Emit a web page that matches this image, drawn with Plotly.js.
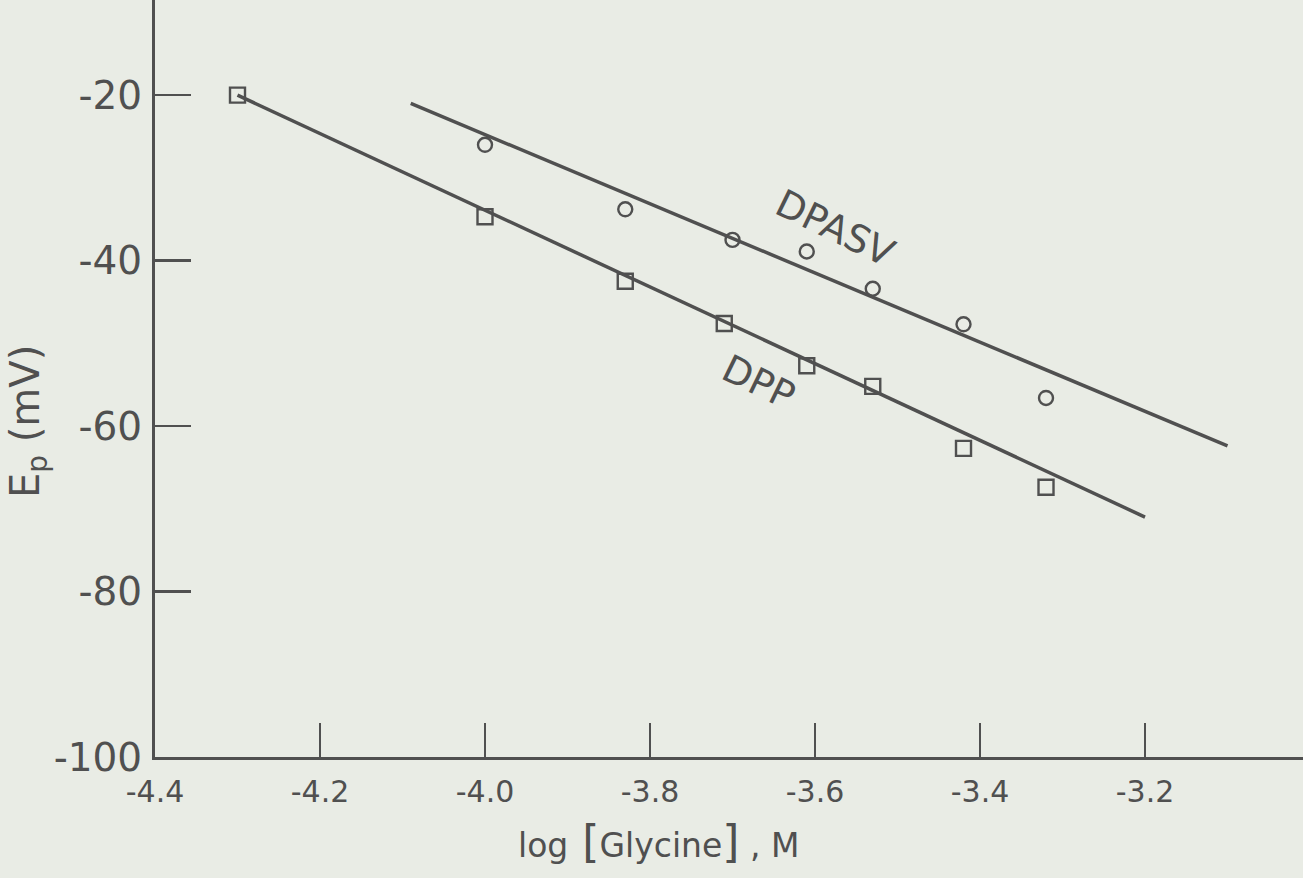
<!DOCTYPE html>
<html>
<head>
<meta charset="utf-8">
<script src="https://cdn.plot.ly/plotly-3.0.1.min.js"></script>
<style>
  html, body { margin: 0; padding: 0; background: #e9ece5; }
  #chart { width: 1303px; height: 878px; }
</style>
</head>
<body>
<div id="chart"></div>
<script>
// DPP data (open squares)
const dppX = [-4.30, -4.00, -3.83, -3.71, -3.61, -3.53, -3.42, -3.32];
const dppY = [-20.0, -34.7, -42.5, -47.6, -52.7, -55.2, -62.7, -67.4];
// DPP fitted line end points
const dppFitX = [-4.30, -3.20];
const dppFitY = [-20.0, -71.0];

// DPASV data (open circles)
const dpasvX = [-4.00, -3.83, -3.70, -3.61, -3.53, -3.42, -3.32];
const dpasvY = [-26.0, -33.8, -37.5, -38.9, -43.4, -47.7, -56.6];
// DPASV fitted line end points
const dpasvFitX = [-4.09, -3.10];
const dpasvFitY = [-21.0, -62.4];

// Axis ticks
const xTicks = [-4.4, -4.2, -4.0, -3.8, -3.6, -3.4, -3.2];
const xTickText = ['-4.4', '-4.2', '-4.0', '-3.8', '-3.6', '-3.4', '-3.2'];
const yTicks = [-100, -80, -60, -40, -20];
const yTickText = ['-100', '-80', '-60', '-40', '-20'];

const ink = '#505050';
const font = 'DejaVu Sans, Liberation Sans, sans-serif';

const traces = [
  { x: dppFitX, y: dppFitY, mode: 'lines', line: { color: ink, width: 3.5 }, hoverinfo: 'skip', showlegend: false },
  { x: dpasvFitX, y: dpasvFitY, mode: 'lines', line: { color: ink, width: 3.5 }, hoverinfo: 'skip', showlegend: false },
  { x: dppX, y: dppY, mode: 'markers', name: 'DPP',
    marker: { symbol: 'square-open', size: 15, color: ink, line: { width: 2.4, color: ink } }, showlegend: false },
  { x: dpasvX, y: dpasvY, mode: 'markers', name: 'DPASV',
    marker: { symbol: 'circle-open', size: 14, color: ink, line: { width: 2.4, color: ink } }, showlegend: false }
];

const layout = {
  width: 1303, height: 878,
  margin: { l: 155, r: 0, t: 0, b: 121 },
  paper_bgcolor: '#e9ece5',
  plot_bgcolor: '#e9ece5',
  font: { family: font, color: ink },
  showlegend: false,
  xaxis: {
    range: [-4.4, -3.0085],
    tickvals: xTicks, ticktext: xTickText,
    ticks: 'inside', ticklen: 34, tickwidth: 2.4, tickcolor: ink,
    showline: true, linecolor: ink, linewidth: 3,
    showgrid: false, zeroline: false,
    tickfont: { size: 30, color: ink, family: font },
    ticklabelstandoff: 6
  },
  yaxis: {
    range: [-100, -8.5],
    tickvals: yTicks, ticktext: yTickText,
    ticks: 'inside', ticklen: 36, tickwidth: 2.4, tickcolor: ink,
    showline: true, linecolor: ink, linewidth: 3,
    showgrid: false, zeroline: false,
    tickfont: { size: 39, color: ink, family: font },
    ticklabelstandoff: 2
  },
  annotations: [
    { xref: 'paper', yref: 'paper', x: 0.439, y: -0.112, xanchor: 'center', yanchor: 'middle', showarrow: false,
      text: "log<span style='font-size:44px'> [</span>Glycine<span style='font-size:44px'>]</span> , M",
      font: { size: 33, color: ink, family: font } },
    { xref: 'paper', yref: 'paper', x: -0.1106, y: 0.4425, xanchor: 'center', yanchor: 'middle', showarrow: false, textangle: -90,
      text: 'E<sub>p</sub> (mV)',
      font: { size: 40, color: ink, family: font } },
    { x: -3.576, y: -36.1, showarrow: false, textangle: 26, text: 'DPASV',
      font: { size: 38, color: ink, family: font } },
    { x: -3.669, y: -54.7, showarrow: false, textangle: 26, text: 'DPP',
      font: { size: 38, color: ink, family: font } }
  ]
};

Plotly.newPlot('chart', traces, layout, { staticPlot: true, displayModeBar: false });
</script>
</body>
</html>
